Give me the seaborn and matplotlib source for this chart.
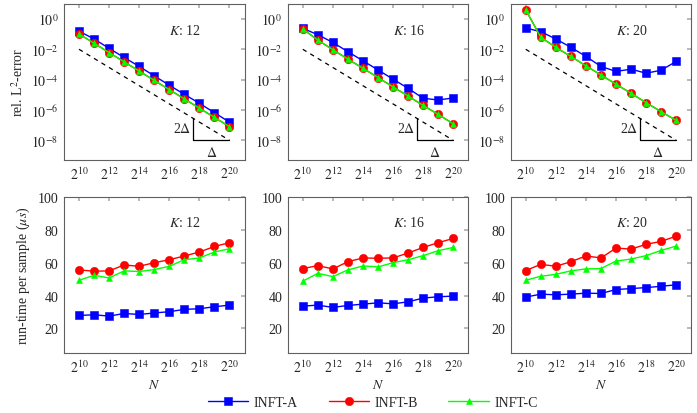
import numpy as np
import pandas as pd
import matplotlib
matplotlib.use("Agg")
import matplotlib.pyplot as plt
import seaborn as sns

# datos
exponentes = list(range(10, 21))
N = [2 ** e for e in exponentes]
Ks = [12, 16, 20]

# error relativo L2 (log10 de los valores)
err_A_log = {
    12: [-0.81, -1.32, -1.94, -2.54, -3.13, -3.75, -4.37, -4.97, -5.56, -6.18, -6.80],
    16: [-0.62, -1.04, -1.55, -2.16, -2.76, -3.36, -3.97, -4.57, -5.23, -5.34, -5.21],
    20: [-0.60, -0.84, -1.32, -1.87, -2.47, -3.13, -3.46, -3.31, -3.58, -3.38, -2.80],
}
err_B_log = {
    12: [-0.99, -1.60, -2.22, -2.83, -3.44, -4.05, -4.66, -5.27, -5.88, -6.49, -7.10],
    16: [-0.66, -1.39, -2.03, -2.65, -3.25, -3.86, -4.48, -5.08, -5.70, -6.29, -6.91],
    20: [0.60, -1.21, -1.87, -2.47, -3.09, -3.69, -4.30, -4.90, -5.52, -6.11, -6.69],
}
err_C_log = err_B_log  # INFT-B e INFT-C coinciden en el error

# tiempo de ejecucion por muestra (micro segundos)
t_A = {
    12: [27.9, 28.3, 27.5, 29.1, 28.5, 29.4, 30.2, 31.6, 32.0, 33.2, 34.2],
    16: [33.6, 34.2, 32.8, 34.0, 34.8, 35.6, 35.0, 36.2, 38.5, 39.3, 39.7],
    20: [39.1, 40.9, 40.5, 40.9, 41.5, 41.3, 43.7, 44.3, 44.9, 45.7, 46.6],
}
t_B = {
    12: [55.7, 54.9, 55.1, 58.7, 57.9, 60.1, 61.9, 64.2, 66.6, 70.0, 72.3],
    16: [56.5, 58.3, 56.3, 60.7, 63.0, 62.8, 63.0, 66.0, 69.4, 72.3, 74.9],
    20: [55.3, 59.1, 57.9, 60.7, 64.2, 63.0, 69.0, 68.4, 71.3, 73.1, 76.3],
}
t_C = {
    12: [49.4, 52.4, 50.8, 55.1, 54.7, 55.9, 57.9, 61.9, 63.0, 66.6, 68.6],
    16: [48.8, 53.6, 51.6, 55.7, 58.1, 57.5, 60.1, 61.9, 64.4, 67.4, 69.4],
    20: [49.4, 51.8, 53.0, 55.1, 56.3, 56.5, 61.1, 62.3, 64.4, 67.6, 70.2],
}

# recta de referencia (pendiente N^-2)
ref_N = [2 ** 10, 2 ** 20]
ref_err = [1e-2, 1e-8]

metodos = ["INFT-A", "INFT-B", "INFT-C"]
colores = {"INFT-A": "#0000ff", "INFT-B": "#ff0000", "INFT-C": "#00ff00"}
marcadores = {"INFT-A": "s", "INFT-B": "o", "INFT-C": "^"}
tamanos = {"INFT-A": 6, "INFT-B": 6, "INFT-C": 5}

sns.set_theme(style="white")
plt.rcParams["font.family"] = ["Liberation Serif", "DejaVu Serif"]
plt.rcParams["mathtext.fontset"] = "stix"
plt.rcParams["font.size"] = 10
plt.rcParams["axes.facecolor"] = "white"
plt.rcParams["figure.facecolor"] = "white"

fig = plt.figure(figsize=(6.97, 4.14), dpi=100)
lefts = [0.0918, 0.4128, 0.7327]
ancho = 0.259
ejes_arriba = [fig.add_axes([l, 0.611, ancho, 0.3775]) for l in lefts]
ejes_abajo = [fig.add_axes([l, 0.145, ancho, 0.376]) for l in lefts]


def estilo_ejes(ax):
    ax.set_facecolor("white")
    ax.set_xscale("log", base=2)
    ax.set_xlim(2 ** 9, 2 ** 21)
    ticks = [2 ** e for e in range(10, 21, 2)]
    ax.set_xticks(ticks)
    ax.set_xticklabels([f"$2^{{{e}}}$" for e in range(10, 21, 2)])
    ax.minorticks_off()
    ax.tick_params(direction="in", length=3, color="#b0b0b0", labelsize=10,
                   top=True, right=True, pad=4)
    for s in ax.spines.values():
        s.set_color("#606060")
        s.set_linewidth(0.8)


for i, K in enumerate(Ks):
    ax = ejes_arriba[i]
    series = {"INFT-A": err_A_log[K], "INFT-B": err_B_log[K], "INFT-C": err_C_log[K]}
    for m in metodos:
        sns.lineplot(x=N, y=10 ** np.array(series[m]), ax=ax, color=colores[m],
                     marker=marcadores[m], markersize=tamanos[m], markeredgewidth=0.4,
                     markeredgecolor=colores[m], linewidth=1.0)
    sns.lineplot(x=ref_N, y=ref_err, ax=ax, color="black", linestyle=(0, (3.5, 3.5)),
                 linewidth=0.9)
    # triangulo de pendiente
    xv = 2 ** 17.6
    ax.plot([xv, xv, 2 ** 20], [10 ** -6.56, 1e-8, 1e-8], color="black", linewidth=0.9)
    ax.text(2 ** 17.45, 10 ** -7.2, r"2$\Delta$", ha="right", va="center", fontsize=10)
    ax.text(2 ** 18.8, 10 ** -8.8, r"$\Delta$", ha="center", va="center", fontsize=10)
    ax.set_yscale("log")
    ax.set_ylim(10 ** -9.3, 10 ** 1.0)
    estilo_ejes(ax)
    ax.set_yticks([1e0, 1e-2, 1e-4, 1e-6, 1e-8])
    ax.set_yticklabels(["$10^{0}$", "$10^{-2}$", "$10^{-4}$", "$10^{-6}$", "$10^{-8}$"])
    ax.minorticks_off()
    ax.text(0.67, 0.83, f"$K$: {K}", transform=ax.transAxes, ha="center", va="center",
            fontsize=10)

    ax = ejes_abajo[i]
    series = {"INFT-A": t_A[K], "INFT-B": t_B[K], "INFT-C": t_C[K]}
    for m in metodos:
        sns.lineplot(x=N, y=series[m], ax=ax, color=colores[m], marker=marcadores[m],
                     markersize=tamanos[m], markeredgewidth=0.4,
                     markeredgecolor=colores[m], linewidth=1.0, label=m)
    ax.set_ylim(5, 100)
    ax.set_yticks([20, 40, 60, 80, 100])
    estilo_ejes(ax)
    ax.set_xlabel("$N$", fontsize=10, labelpad=2)
    ax.text(0.67, 0.84, f"$K$: {K}", transform=ax.transAxes, ha="center", va="center",
            fontsize=10)
    handles, labels = ax.get_legend_handles_labels()
    ax.get_legend().remove()

ejes_arriba[0].set_ylabel(r"rel. L$^2$-error", fontsize=10)
ejes_abajo[0].set_ylabel(r"run-time per sample ($\mu s$)", fontsize=10)

fig.legend(handles, labels, loc="center", bbox_to_anchor=(0.535, 0.026), ncol=3,
           frameon=False, handlelength=2.9, handletextpad=0.4, columnspacing=2.2,
           fontsize=10, borderpad=0, borderaxespad=0)

fig.savefig("out.png", dpi=100)
